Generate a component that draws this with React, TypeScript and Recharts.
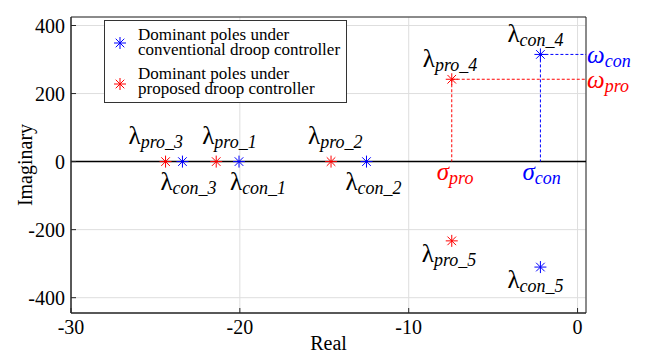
import React from "react";
import {
  ScatterChart,
  Scatter,
  XAxis,
  YAxis,
  CartesianGrid,
  ReferenceLine,
  ReferenceArea,
  ReferenceDot,
  Legend,
} from "recharts";

// pole locations (real, imaginary)
const conNames = ["con_1", "con_2", "con_3", "con_4", "con_5"];
const conReal = [-20.05, -12.5, -23.4, -2.2, -2.2];
const conImag = [0, 0, 0, 315, -310];

const proNames = ["pro_1", "pro_2", "pro_3", "pro_4", "pro_5"];
const proReal = [-21.4, -14.6, -24.4, -7.45, -7.45];
const proImag = [0, 0, 0, 242, -233];

const seriesNames = [
  "Dominant poles under\nconventional droop controller",
  "Dominant poles under\nproposed droop controller",
];

const xTicks = [-30, -20, -10, 0];
const yTicks = [-400, -200, 0, 200, 400];
const xDomain = [-30, 0.5];
const yDomain = [-445, 425];

const conData = conNames.map((n, i) => ({ name: n, re: conReal[i], im: conImag[i] }));
const proData = proNames.map((n, i) => ({ name: n, re: proReal[i], im: proImag[i] }));

// label placement relative to the marker, px
const labelOffset: Record<string, [number, number]> = {
  pro_3: [-37, -18],
  pro_1: [-14, -18],
  pro_2: [-23, -18],
  con_3: [-22, 28],
  con_1: [-9, 28],
  con_2: [-21, 28],
  pro_4: [-29, -12],
  con_4: [-33, -12],
  pro_5: [-30, 21],
  con_5: [-33, 21],
};

const serif = "'Liberation Serif', 'Times New Roman', serif";
const BLUE = "#0000ff";
const RED = "#ff0000";
const AXIS = "#262626";

const Star = ({ cx, cy, color }: { cx: number; cy: number; color: string }) => {
  const r = 6;
  const d = 4.3;
  return (
    <g stroke={color} strokeWidth={1}>
      <line x1={cx - r} y1={cy} x2={cx + r} y2={cy} />
      <line x1={cx} y1={cy - r} x2={cx} y2={cy + r} />
      <line x1={cx - d} y1={cy - d} x2={cx + d} y2={cy + d} />
      <line x1={cx - d} y1={cy + d} x2={cx + d} y2={cy - d} />
    </g>
  );
};

const poleShape = (color: string) => (props: any) => {
  const { cx, cy, payload } = props;
  const [dx, dy] = labelOffset[payload.name] || [0, 0];
  return (
    <g>
      <Star cx={cx} cy={cy} color={color} />
      <text x={cx + dx} y={cy + dy} fontFamily={serif} fill="#000">
        <tspan fontSize={25}>λ</tspan>
        <tspan fontSize={18} fontStyle="italic" dy={4}>
          {payload.name}
        </tspan>
      </text>
    </g>
  );
};

const GreekLabel = ({ x, y, sym, sub, color }: any) => (
  <text x={x} y={y} fontFamily={serif} fill={color} fontStyle="italic">
    <tspan fontSize={25}>{sym}</tspan>
    <tspan fontSize={18} dy={4}>
      {sub}
    </tspan>
  </text>
);

const XTick = (props: any) => {
  const { x, y, payload } = props;
  return (
    <g>
      <line x1={x} x2={x} y1={y} y2={y - 5} stroke={AXIS} />
      <text x={x} y={y + 21} textAnchor="middle" fontFamily={serif} fontSize={20} fill="#000">
        {payload.value}
      </text>
    </g>
  );
};

const YTick = (props: any) => {
  const { x, y, payload } = props;
  return (
    <g>
      <line x1={x} x2={x + 5} y1={y} y2={y} stroke={AXIS} />
      <text x={x - 6} y={y + 7} textAnchor="end" fontFamily={serif} fontSize={20} fill="#000">
        {payload.value}
      </text>
    </g>
  );
};

const LegendBox = (props: any) => {
  const items = (props.payload || []).map((p: any) => ({ value: p.value, color: p.color }));
  const rows = [6, 45];
  const marks = [22, 63];
  return (
    <div
      style={{
        position: "relative",
        width: 243,
        height: 83,
        boxSizing: "border-box",
        border: "1px solid #333",
        background: "#fff",
        fontFamily: serif,
        fontSize: 17,
        lineHeight: "15px",
        color: "#000",
      }}
    >
      {items.map((it: any, i: number) => (
        <React.Fragment key={i}>
          <svg
            width={16}
            height={16}
            style={{ position: "absolute", left: 7, top: marks[i] - 8 }}
          >
            <Star cx={8} cy={8} color={it.color} />
          </svg>
          <div
            style={{
              position: "absolute",
              left: 33,
              top: rows[i],
              whiteSpace: "pre",
            }}
          >
            {it.value}
          </div>
        </React.Fragment>
      ))}
    </div>
  );
};

export default function App() {
  return (
    <div style={{ position: "absolute", left: 0, top: 0, background: "#fff" }}>
      <ScatterChart
        width={659}
        height={356}
        margin={{ top: 17, right: 73, bottom: 0, left: 0 }}
      >
        <CartesianGrid stroke="#dedede" strokeWidth={1} />
        <XAxis
          type="number"
          dataKey="re"
          domain={xDomain}
          ticks={xTicks}
          allowDataOverflow
          height={43}
          tickSize={0}
          tickMargin={0}
          tickLine={false}
          tick={<XTick />}
          axisLine={{ stroke: AXIS }}
          label={{
            value: "Real",
            position: "insideBottom",
            offset: 6,
            style: { fontFamily: serif, fontSize: 20, fill: "#000" },
          }}
        />
        <YAxis
          type="number"
          dataKey="im"
          domain={yDomain}
          ticks={yTicks}
          allowDataOverflow
          width={71}
          tickSize={0}
          tickMargin={0}
          tickLine={false}
          tick={<YTick />}
          axisLine={{ stroke: AXIS }}
          label={{
            value: "Imaginary",
            angle: -90,
            position: "insideLeft",
            offset: 25,
            style: { fontFamily: serif, fontSize: 20, fill: "#000", textAnchor: "middle" },
          }}
        />
        <ReferenceArea
          x1={xDomain[0]}
          x2={xDomain[1]}
          y1={yDomain[0]}
          y2={yDomain[1]}
          fill="none"
          stroke={AXIS}
          strokeWidth={1}
        />
        <ReferenceLine y={0} stroke="#000" strokeWidth={1.5} />
        <ReferenceLine
          segment={[
            { x: proReal[3], y: proImag[3] },
            { x: proReal[3], y: 0 },
          ]}
          stroke={RED}
          strokeDasharray="3 2"
        />
        <ReferenceLine
          segment={[
            { x: proReal[3], y: proImag[3] },
            { x: xDomain[1], y: proImag[3] },
          ]}
          stroke={RED}
          strokeDasharray="3 2"
        />
        <ReferenceLine
          segment={[
            { x: conReal[3], y: conImag[3] },
            { x: conReal[3], y: 0 },
          ]}
          stroke={BLUE}
          strokeDasharray="3 2"
        />
        <ReferenceLine
          segment={[
            { x: conReal[3], y: conImag[3] },
            { x: xDomain[1], y: conImag[3] },
          ]}
          stroke={BLUE}
          strokeDasharray="3 2"
        />
        <ReferenceDot
          x={proReal[3]}
          y={0}
          shape={(p: any) => <GreekLabel x={p.cx - 15} y={p.cy + 18} sym="σ" sub="pro" color={RED} />}
        />
        <ReferenceDot
          x={conReal[3]}
          y={0}
          shape={(p: any) => <GreekLabel x={p.cx - 18} y={p.cy + 18} sym="σ" sub="con" color={BLUE} />}
        />
        <ReferenceDot
          x={xDomain[1]}
          y={proImag[3]}
          shape={(p: any) => <GreekLabel x={p.cx + 1} y={p.cy + 9} sym="ω" sub="pro" color={RED} />}
        />
        <ReferenceDot
          x={xDomain[1]}
          y={conImag[3]}
          shape={(p: any) => <GreekLabel x={p.cx + 1} y={p.cy + 9} sym="ω" sub="con" color={BLUE} />}
        />
        <Scatter
          name={seriesNames[0]}
          data={conData}
          fill={BLUE}
          shape={poleShape(BLUE)}
          isAnimationActive={false}
        />
        <Scatter
          name={seriesNames[1]}
          data={proData}
          fill={RED}
          shape={poleShape(RED)}
          isAnimationActive={false}
        />
        <Legend
          layout="horizontal"
          verticalAlign="middle"
          align="center"
          wrapperStyle={{ left: 104, top: 20, width: 243, height: 83 }}
          content={<LegendBox />}
        />
      </ScatterChart>
    </div>
  );
}
